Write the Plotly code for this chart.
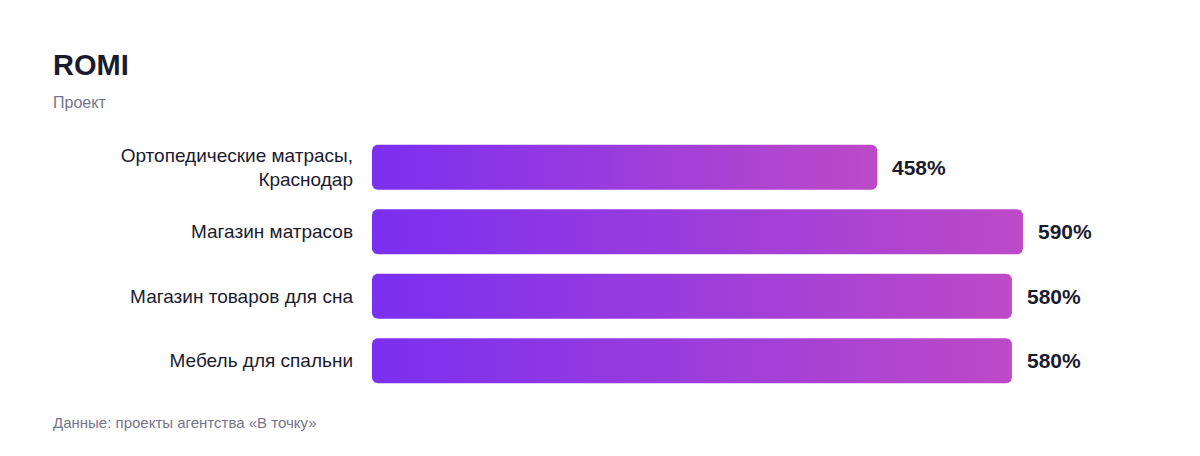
import numpy as np
import plotly.graph_objects as go

# ---- data ----
categories = ["Ортопедические матрасы,<br>Краснодар", "Магазин матрасов",
              "Магазин товаров для сна", "Мебель для спальни"]
romi_values = [458, 590, 580, 580]
value_labels = [f"{v}%" for v in romi_values]

title_text = "ROMI"
subtitle_text = "Проект"
source_text = "Данные: проекты агентства «В точку»"

# ---- layout geometry ----
W, H = 1200, 456
OFF = 8  # page body margin
ML, MT = 372 - OFF, 135 - OFF
PW, PH = 662, 258
MR = W - ML - PW
MB = H - MT - PH
XMAX = 600
BAR_H = 0.7          # in category units
RADIUS_PX = 6

px_per_x = PW / XMAX
px_per_y = PH / 4.0
rx = RADIUS_PX / px_per_x
ry = RADIUS_PX / px_per_y

FONT = "Helvetica, Arial, Liberation Sans, sans-serif"
DARK = "#1b1b2f"
GRAY = "#74748a"
C0, C1 = "#7b2ff0", "#bd4ac7"


def rounded_bar(x1, yc):
    """Outline of a rounded bar from 0 to x1 centred on yc (data units)."""
    h = BAR_H / 2
    corners = [
        (x1 - rx, yc - h + ry, -np.pi / 2, 0),
        (x1 - rx, yc + h - ry, 0, np.pi / 2),
        (0 + rx, yc + h - ry, np.pi / 2, np.pi),
        (0 + rx, yc - h + ry, np.pi, 1.5 * np.pi),
    ]
    xs, ys = [], []
    for cx, cy, a0, a1 in corners:
        t = np.linspace(a0, a1, 10)
        xs.extend(cx + rx * np.cos(t))
        ys.extend(cy + ry * np.sin(t))
    xs.append(xs[0])
    ys.append(ys[0])
    return xs, ys


fig = go.Figure()
for i, v in enumerate(romi_values):
    xs, ys = rounded_bar(v, i)
    fig.add_trace(go.Scatter(
        x=xs, y=ys, mode="lines", fill="toself",
        line=dict(width=0, color=C0),
        fillgradient=dict(type="horizontal", colorscale=[[0, C0], [1, C1]]),
        hoverinfo="skip", showlegend=False,
    ))
    fig.add_annotation(
        x=v, y=i, xref="x", yref="y", text=value_labels[i],
        showarrow=False, xanchor="left", yanchor="middle", xshift=13,
        font=dict(family=FONT, size=21, color=DARK, weight="bold"),
    )


def px_x(px):
    return (px - OFF - ML) / PW


def px_y(py):
    return (H - MB - (py - OFF)) / PH


fig.add_annotation(x=px_x(51), y=px_y(65), xref="paper", yref="paper",
                   text=f"<b>{title_text}</b>", showarrow=False,
                   xanchor="left", yanchor="middle",
                   font=dict(family=FONT, size=29, color=DARK))
fig.add_annotation(x=px_x(51), y=px_y(102), xref="paper", yref="paper",
                   text=subtitle_text, showarrow=False,
                   xanchor="left", yanchor="middle",
                   font=dict(family=FONT, size=16, color=GRAY))
fig.add_annotation(x=px_x(51), y=px_y(422), xref="paper", yref="paper",
                   text=source_text, showarrow=False,
                   xanchor="left", yanchor="middle",
                   font=dict(family=FONT, size=15, color=GRAY))

fig.update_layout(
    width=W, height=H,
    margin=dict(l=ML, r=MR, t=MT, b=MB, pad=0),
    paper_bgcolor="white", plot_bgcolor="white",
    font=dict(family=FONT, color=DARK),
    xaxis=dict(range=[0, XMAX], visible=False, fixedrange=True),
    yaxis=dict(range=[3.5, -0.5], tickvals=list(range(len(categories))),
               ticktext=categories, showgrid=False, zeroline=False,
               showline=False, ticks="", ticklabelstandoff=18,
               tickfont=dict(family=FONT, size=19, color=DARK),
               fixedrange=True),
)

fig.write_html("out.html")
